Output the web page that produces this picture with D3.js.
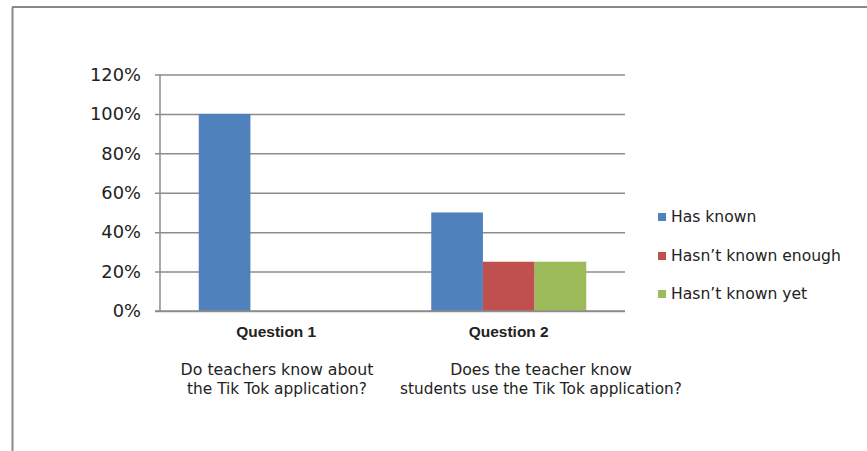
<!DOCTYPE html>
<html><head><meta charset="utf-8">
<script src="https://cdn.jsdelivr.net/npm/d3@7/dist/d3.min.js"></script>
<style>body{margin:0;background:#fff}svg{display:block}text{font-family:"Century Gothic","DejaVu Sans",sans-serif;fill:#222}</style>
</head><body>
<svg id="c" width="867" height="451"></svg>
<script>
const categories = ["Question 1", "Question 2"];
const seriesNames = ["Has known", "Hasn\u2019t known enough", "Hasn\u2019t known yet"];
const hasKnown = [1.00, 0.50];
const hasntKnownEnough = [0, 0.25];
const hasntKnownYet = [0, 0.25];
const yTicks = [0, 0.2, 0.4, 0.6, 0.8, 1.0, 1.2];
const descriptions = [
  ["Do teachers know about", "the Tik Tok application?"],
  ["Does the teacher know", "students use the Tik Tok application?"]
];
const colors = ["#4F81BD", "#C0504D", "#9BBB59"];
const seriesValues = [hasKnown, hasntKnownEnough, hasntKnownYet];

const svg = d3.select("#c");
function fit(sel, refNode, target) {
  const w = refNode.getComputedTextLength();
  const fs = parseFloat(d3.select(refNode).attr("font-size"));
  sel.attr("font-size", fs * target / w);
}

// frame
svg.append("line").attr("x1",12.5).attr("x2",12.5).attr("y1",7).attr("y2",451).attr("stroke","#888").attr("stroke-width",2);
svg.append("line").attr("x1",12).attr("x2",867).attr("y1",7).attr("y2",7).attr("stroke","#888").attr("stroke-width",2);

const L = 160, R = 625, T = 74.5, B = 311;
const x = d3.scaleBand().domain(categories).range([L, R]);
const y = d3.scaleLinear().domain([0, 1.2]).range([B, T]);
const xs = d3.scaleBand().domain(d3.range(seriesNames.length)).range([0, x.bandwidth()]).paddingOuter(0.75);

const yAxis = d3.axisLeft(y).tickValues(yTicks).tickFormat(d3.format(".0%")).tickSize(-(R - L)).tickPadding(19);
const ga = svg.append("g").attr("transform", `translate(${L},0)`).call(yAxis);
ga.select(".domain").remove();
ga.selectAll(".tick line").attr("stroke","#8c8c8c").attr("stroke-width",1.5).attr("x1",-5);
const tt = ga.selectAll(".tick text").attr("font-size",17).attr("fill","#222").style("font-family",'"Century Gothic","DejaVu Sans",sans-serif');
fit(tt, tt.filter(d => d === 1.2).node(), 51);
svg.append("line").attr("x1",L).attr("x2",L).attr("y1",T).attr("y2",B).attr("stroke","#8c8c8c").attr("stroke-width",1.5);

seriesValues.forEach((vals, si) => {
  svg.append("g").selectAll("rect").data(categories).join("rect")
    .attr("x", (c) => x(c) + xs(si))
    .attr("width", xs.bandwidth())
    .attr("y", (c, i) => y(vals[i]))
    .attr("height", (c, i) => y(0) - y(vals[i]))
    .attr("fill", colors[si]);
});
svg.append("line").attr("x1",L-5).attr("x2",R).attr("y1",y(0)).attr("y2",y(0)).attr("stroke","#8c8c8c").attr("stroke-width",1.5);

const cl = svg.selectAll(".cat").data(categories).join("text")
  .attr("x", c => x(c) + x.bandwidth()/2).attr("y", 337)
  .attr("text-anchor","middle").attr("font-size",13).attr("font-weight","bold")
  .style("font-family",'"Liberation Sans",Arial,sans-serif').text(c => c);
fit(cl, cl.node(), 80);

const descX = [277, 541];
const descTargets = [[193, 180], [182, 282]];
descriptions.forEach((lines, i) => {
  lines.forEach((ln, j) => {
    const t = svg.append("text").attr("x", descX[i]).attr("y", 375 + j*19)
      .attr("text-anchor","middle").attr("font-size",14).text(ln);
    fit(t, t.node(), descTargets[i][j]);
  });
});

const legY = [217, 256, 294];
const lt = [];
seriesNames.forEach((n, i) => {
  svg.append("rect").attr("x",658).attr("y",legY[i]-4).attr("width",8).attr("height",8).attr("fill",colors[i]);
  lt.push(svg.append("text").attr("class","leg").attr("x",671).attr("y",legY[i]).attr("dy","0.35em").attr("font-size",15).text(n).node());
});
fit(svg.selectAll(".leg"), lt[1], 170);
</script>
</body></html>
